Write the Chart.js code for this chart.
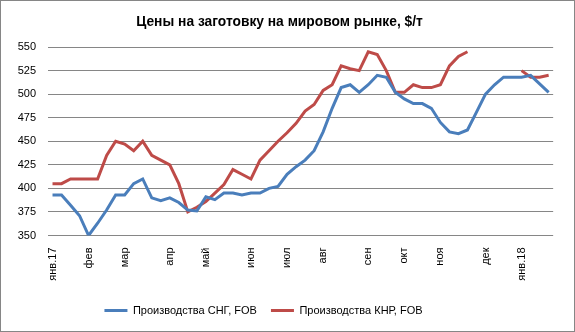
<!DOCTYPE html>
<html lang="ru">
<head>
<meta charset="utf-8">
<script src="https://cdn.jsdelivr.net/npm/chart.js@4.4.1/dist/chart.umd.min.js"></script>
<style>
  html, body { margin: 0; padding: 0; background: #fff; }
  #wrap {
    width: 575px; height: 332px; box-sizing: border-box;
    border: 1px solid #868686; background: #fff;
  }
  #wrap canvas { display: block; }
</style>
</head>
<body>
<div id="wrap"><canvas id="priceChart" width="573" height="330"></canvas></div>
<script>
// недельные точки, подписи только в начале месяца
const monthLabels = ["янв.17", "фев", "мар", "апр", "май", "июн", "июл", "авг", "сен", "окт", "ноя", "дек", "янв.18"];
const monthStarts = [0, 4, 8, 13, 17, 22, 26, 30, 35, 39, 43, 48, 52];
const weekCount = 56;

const cisFob = [393, 393, 382, 371, 350, 363, 377, 393, 393, 405, 410, 390, 387, 390,
  385, 377, 376, 391, 388, 395, 395, 393, 395, 395, 400, 402, 415, 423,
  430, 440, 460, 485, 507, 510, 502, 510, 520, 518, 502, 495, 490, 490,
  485, 470, 460, 458, 462, 481, 500, 510, 518, 518, 518, 520, 511, 502];

const chinaFob = [405, 405, 410, 410, 410, 410, 435, 450, 447, 440, 450, 435, 430, 425,
  405, 375, 380, 386, 395, 404, 420, 415, 410, 430, 440, 450, 459, 469,
  482, 489, 504, 510, 530, 527, 525, 545, 542, 525, 502, 502, 510, 507,
  507, 510, 530, 540, 545, null, null, null, null, null, 525, 518, 518, 520];

const yTicks = { min: 350, max: 550, step: 25 };

const labels = [];
for (let i = 0; i < weekCount; i++) {
  const k = monthStarts.indexOf(i);
  labels.push(k >= 0 ? monthLabels[k] : "");
}

const font = "'Liberation Sans', Arial, sans-serif";
const blue = "#4a7ebb";
const red = "#be4b48";

// легенда стоит чуть левее центра
const legendShift = {
  id: "legendShift",
  afterLayout(chart) {
    chart.legend.left -= 16;
    chart.legend.right -= 16;
  }
};

const ctx = document.getElementById("priceChart").getContext("2d");
new Chart(ctx, {
  type: "line",
  data: {
    labels: labels,
    datasets: [
      {
        label: "Производства СНГ, FOB",
        data: cisFob,
        borderColor: blue,
        backgroundColor: blue,
        borderWidth: 3,
        pointRadius: 0,
        tension: 0
      },
      {
        label: "Производства КНР, FOB",
        data: chinaFob,
        borderColor: red,
        backgroundColor: red,
        borderWidth: 3,
        pointRadius: 0,
        tension: 0,
        spanGaps: false
      }
    ]
  },
  plugins: [legendShift],
  options: {
    responsive: false,
    animation: false,
    layout: { padding: { left: 0, right: 16, top: 0, bottom: 5 } },
    plugins: {
      title: {
        display: true,
        text: "Цены на заготовку на мировом рынке, $/т",
        color: "#000",
        font: { family: font, size: 13.8, weight: "bold" },
        padding: { top: 13.1, bottom: 16.4 }
      },
      legend: {
        position: "bottom",
        labels: {
          color: "#000",
          font: { family: font, size: 11 },
          boxWidth: 23,
          boxHeight: 3,
          padding: 14,
          generateLabels: (chart) => {
            const items = Chart.defaults.plugins.legend.labels.generateLabels(chart);
            items.forEach(it => { it.lineWidth = 0; });
            return items;
          }
        }
      },
      tooltip: { enabled: false }
    },
    scales: {
      x: {
        type: "category",
        offset: true,
        grid: { display: false, drawTicks: false },
        border: { display: false },
        ticks: {
          autoSkip: false,
          minRotation: 90,
          maxRotation: 90,
          padding: 12,
          color: "#000",
          font: { family: font, size: 11 }
        },
        afterFit: (scale) => { scale.height = 55.5; }
      },
      y: {
        min: yTicks.min,
        max: yTicks.max,
        grid: { color: "#868686", lineWidth: 1, drawTicks: false },
        border: { display: false },
        ticks: {
          stepSize: yTicks.step,
          padding: 12,
          color: "#000",
          font: { family: font, size: 11 }
        },
        afterFit: (scale) => { scale.width = 47; }
      }
    }
  }
});
</script>
</body>
</html>
